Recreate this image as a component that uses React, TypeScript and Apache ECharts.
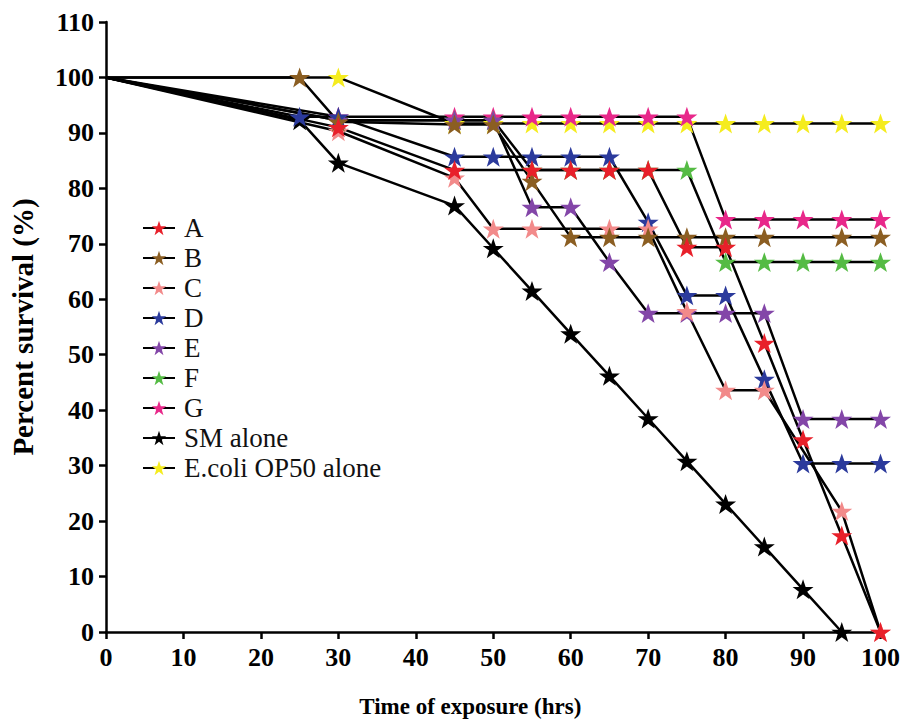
import React, { useEffect, useRef } from "react";
import * as echarts from "echarts";

const xTicks = [0, 10, 20, 30, 40, 50, 60, 70, 80, 90, 100];
const yTicks = [0, 10, 20, 30, 40, 50, 60, 70, 80, 90, 100, 110];

const seriesNames = ["A", "B", "C", "D", "E", "F", "G", "SM alone", "E.coli OP50 alone"];
const seriesColors = ["#e8202a", "#8b5e22", "#f28a8a", "#2b3a9c", "#8346a8", "#55bb44", "#e8288a", "#000000", "#f5ec1e"];

const aTimes = [0, 30, 45, 55, 60, 65, 70, 75, 80, 85, 90, 95, 100];
const aValues = [100, 91.0, 83.3, 83.3, 83.3, 83.3, 83.3, 69.4, 69.4, 52.1, 34.7, 17.4, 0];

const bTimes = [0, 25, 30, 45, 50, 55, 60, 65, 70, 75, 80, 85, 95, 100];
const bValues = [100, 100, 92.0, 91.5, 91.5, 81.3, 71.2, 71.2, 71.2, 71.2, 71.2, 71.2, 71.2, 71.2];

const cTimes = [0, 30, 45, 50, 55, 65, 70, 75, 80, 85, 95, 100];
const cValues = [100, 90.3, 81.9, 72.7, 72.7, 72.7, 72.7, 57.8, 43.6, 43.6, 21.8, 0];

const dTimes = [0, 25, 30, 45, 50, 55, 60, 65, 70, 75, 80, 85, 90, 95, 100];
const dValues = [100, 92.9, 92.9, 85.7, 85.7, 85.7, 85.7, 85.7, 73.9, 60.7, 60.7, 45.6, 30.4, 30.4, 30.4];

const eTimes = [0, 30, 45, 50, 55, 60, 65, 70, 75, 80, 85, 90, 95, 100];
const eValues = [100, 92.3, 92.3, 92.3, 76.6, 76.6, 66.7, 57.5, 57.5, 57.5, 57.5, 38.4, 38.4, 38.4];

const fTimes = [0, 30, 45, 50, 55, 60, 65, 70, 75, 80, 85, 90, 95, 100];
const fValues = [100, 92.3, 92.3, 92.3, 83.3, 83.3, 83.3, 83.3, 83.3, 66.7, 66.7, 66.7, 66.7, 66.7];

const gTimes = [0, 30, 45, 50, 55, 60, 65, 70, 75, 80, 85, 90, 95, 100];
const gValues = [100, 92.9, 92.9, 92.9, 92.9, 92.9, 92.9, 92.9, 92.9, 74.4, 74.4, 74.4, 74.4, 74.4];

const smTimes = [0, 25, 30, 45, 50, 55, 60, 65, 70, 75, 80, 85, 90, 95];
const smValues = [100, 92.3, 84.6, 76.9, 69.2, 61.5, 53.8, 46.2, 38.5, 30.8, 23.1, 15.4, 7.7, 0];

const ecTimes = [0, 30, 45, 50, 55, 60, 65, 70, 75, 80, 85, 90, 95, 100];
const ecValues = [100, 100, 91.7, 91.7, 91.7, 91.7, 91.7, 91.7, 91.7, 91.7, 91.7, 91.7, 91.7, 91.7];

const allTimes = [aTimes, bTimes, cTimes, dTimes, eTimes, fTimes, gTimes, smTimes, ecTimes];
const allValues = [aValues, bValues, cValues, dValues, eValues, fValues, gValues, smValues, ecValues];

const STAR =
  "path://M50,0 L61.8,34.5 L97.6,34.5 L68.8,55.9 L79.4,90.5 L50,69.1 L20.6,90.5 L31.2,55.9 L2.4,34.5 L38.2,34.5 Z";

const FONT = "'Liberation Serif', 'Times New Roman', serif";

export default function App() {
  const ref = useRef<HTMLDivElement>(null);

  useEffect(() => {
    if (!ref.current) return;
    const chart = echarts.init(ref.current, null, { renderer: "svg" });

    const series: any[] = [];
    for (let i = seriesNames.length - 1; i >= 0; i--) {
      const data = allTimes[i].map((t, j) => {
        const item: any = { value: [t, allValues[i][j]] };
        if (t === 0) item.symbol = "none";
        return item;
      });
      series.push({
        name: seriesNames[i],
        type: "line",
        data,
        symbol: STAR,
        symbolSize: 21,
        symbolKeepAspect: true,
        showAllSymbol: true,
        clip: false,
        lineStyle: { color: "#000", width: 2.5 },
        itemStyle: { color: seriesColors[i], borderWidth: 0 },
        emphasis: { disabled: true },
      });
    }

    const axisCommon = {
      type: "value",
      axisLine: { show: true, lineStyle: { color: "#000", width: 2.5 } },
      axisTick: { show: true, length: 7, inside: false, lineStyle: { color: "#000", width: 2.5 } },
      splitLine: { show: false },
      axisLabel: {
        color: "#000",
        fontFamily: FONT,
        fontWeight: "bold",
        fontSize: 26,
        margin: 12,
      },
    };

    chart.setOption({
      animation: false,
      backgroundColor: "#fff",
      grid: { left: 104, right: 21, top: 22, bottom: 91, containLabel: false },
      xAxis: {
        ...axisCommon,
        min: xTicks[0],
        max: xTicks[xTicks.length - 1],
        interval: xTicks[1] - xTicks[0],
        name: "Time of exposure (hrs)",
        nameLocation: "middle",
        nameGap: 63,
        nameTextStyle: {
          color: "#000",
          fontFamily: FONT,
          fontWeight: "bold",
          fontSize: 23,
          padding: [0, 46, 0, 0],
        },
      },
      yAxis: {
        ...axisCommon,
        min: yTicks[0],
        max: yTicks[yTicks.length - 1],
        interval: yTicks[1] - yTicks[0],
        name: "Percent survival (%)",
        nameLocation: "middle",
        nameGap: 69,
        nameTextStyle: {
          color: "#000",
          fontFamily: FONT,
          fontWeight: "bold",
          fontSize: 29,
        },
      },
      legend: {
        data: seriesNames,
        orient: "vertical",
        left: 137,
        top: 208,
        itemWidth: 32,
        itemHeight: 18,
        itemGap: 0,
        textStyle: { color: "#111", fontFamily: FONT, fontSize: 27, lineHeight: 30, padding: [0, 0, 0, 4] },
        selectedMode: false,
      },
      series,
    });

    return () => chart.dispose();
  }, []);

  return <div ref={ref} style={{ width: 903, height: 723, position: "absolute", left: 0, top: 0 }} />;
}
